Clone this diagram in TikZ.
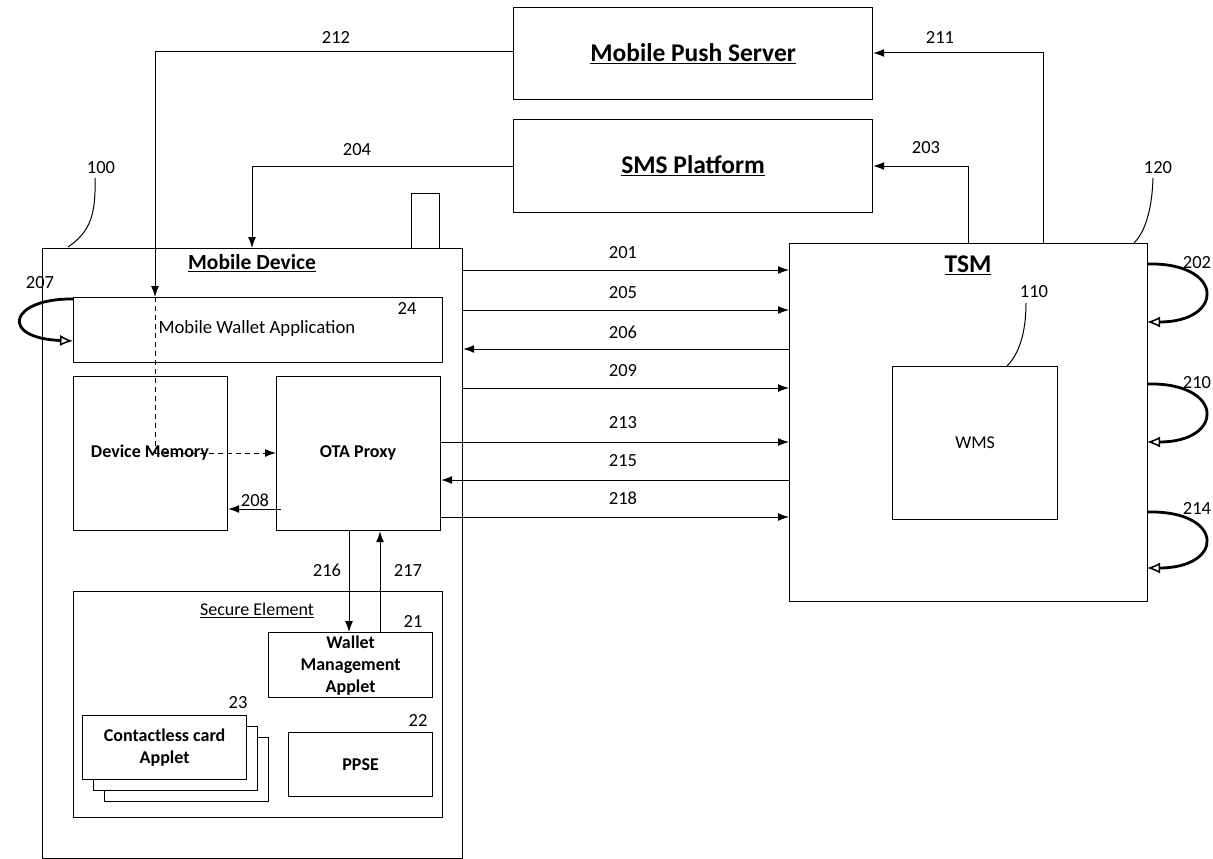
\documentclass[tikz,border=0pt]{standalone}
\usepackage{fontspec}
\setmainfont{Carlito}
\usetikzlibrary{arrows.meta,calc}
\begin{document}
\begin{tikzpicture}[x=1pt,y=-1pt,
  box/.style={draw, line width=1.2pt, inner sep=0pt, anchor=north west, fill=white},
  num/.style={font=\fontsize{18.5}{18.5}\selectfont, inner sep=0pt},
  inb/.style={font=\fontsize{18}{21}\selectfont\bfseries, align=center},
  inr/.style={font=\fontsize{18}{21}\selectfont, align=center},
  ttl/.style={font=\fontsize{25.5}{25.5}\selectfont\bfseries, inner sep=0pt},
  arr/.style={line width=1pt, -{Latex[length=11pt,width=8pt]}},
  darr/.style={line width=1pt, dashed, dash pattern=on 5pt off 4pt, -{Latex[length=11pt,width=8pt]}},
  lp/.style={line width=2.8pt, -{Latex[open,length=13pt,width=11pt,line width=1.5pt]}},
  lead/.style={line width=1pt}]
\useasboundingbox (0,0) rectangle (1213,859);

% top servers
\node[box, minimum width=359, minimum height=92] (mps) at (513,7) {};
\node[ttl] at (mps.center) {\underline{Mobile Push Server}};
\node[box, minimum width=359, minimum height=93] (sms) at (513,119) {};
\node[ttl] at (sms.center) {\underline{SMS Platform}};

% mobile device
\node[box, minimum width=28, minimum height=56] (ant) at (411,193) {};
\node[box, minimum width=420, minimum height=610] (md) at (42,248) {};
\node[font=\fontsize{21.5}{21.5}\selectfont\bfseries, inner sep=0pt] (mdt) at (252,263) {\underline{Mobile Device}};
\node[num] (l100) at (101,168) {100};
\draw[lead] (95,178) .. controls (96,215) and (90,232) .. (68,247);

\node[box, minimum width=369, minimum height=65] (mwa) at (73,297) {};
\node[inr, inner sep=0pt, font=\fontsize{18.7}{21}\selectfont] at (257,329) {Mobile Wallet Application};
\node[num] (l24) at (407,308) {24};

\node[box, minimum width=154, minimum height=154] (dm) at (73,376) {};
\node[box, minimum width=164, minimum height=154] (ota) at (276,376) {};
\node[inb, inner sep=0pt] (dmt) at (150,453) {Device Memory};
\node[inb, inner sep=0pt] at (358,453) {OTA Proxy};

% secure element
\node[box, minimum width=369, minimum height=226] (se) at (73,591) {};
\node[font=\fontsize{18}{18}\selectfont, inner sep=0pt] at (257,610) {\underline{Secure Element}};
\node[box, minimum width=164, minimum height=65] (wma) at (268,632) {};
\node[inb, inner sep=0pt, font=\fontsize{18}{22}\selectfont\bfseries] at (wma.center) {Wallet\\Management\\Applet};
\node[num] (l21) at (413,621) {21};
\node[box, minimum width=164, minimum height=64] (cc3) at (104,737) {};
\node[box, minimum width=164, minimum height=64] (cc2) at (93,726) {};
\node[box, minimum width=164, minimum height=64] (cc1) at (82,715) {};
\node[inb, inner sep=0pt, font=\fontsize{18}{22}\selectfont\bfseries] at (cc1.center) {Contactless card\\Applet};
\node[num] (l23) at (238,703) {23};
\node[box, minimum width=144, minimum height=64] (ppse) at (288,732) {};
\node[inb, inner sep=0pt] at (ppse.center) {PPSE};
\node[num] (l22) at (418,720) {22};

% TSM
\node[box, minimum width=358, minimum height=358] (tsm) at (789,243) {};
\node[ttl] at (968,265) {\underline{TSM}};
\node[num] (l120) at (1158,168) {120};
\draw[lead] (1153,178) .. controls (1152,210) and (1145,232) .. (1134,243);
\node[box, minimum width=165, minimum height=153] (wms) at (892,366) {};
\node[inr, inner sep=0pt] at (wms.center) {WMS};
\node[num] (l110) at (1034,292) {110};
\draw[lead] (1026,303) .. controls (1026,335) and (1018,355) .. (1007,366);

% server connectors
\coordinate (c212) at (155,52);
\draw[arr] (mps.west |- c212) -- (c212) -- (c212 |- mwa.north);
\node[num] at (336,37) {212};
\coordinate (dmx) at (155,453);
\draw[line width=1pt, dashed, dash pattern=on 5pt off 4pt] (c212 |- mwa.north) -- (dmx);
\draw[darr] (dmx) -- (ota.west |- dmx);
\coordinate (c204) at (252,166);
\draw[arr] (sms.west |- c204) -- (c204) -- (c204 |- md.north);
\node[num] at (357,150) {204};
\coordinate (c203) at (968,166);
\draw[arr] (c203 |- tsm.north) -- (c203) -- (sms.east |- c203);
\node[num] at (926,148) {203};
\coordinate (c211) at (1043,53);
\draw[arr] (c211 |- tsm.north) -- (c211) -- (mps.east |- c211);
\node[num] at (940,37) {211};

% device <-> TSM
\foreach \yy/\lab/\dir in {270/201/r, 310/205/r, 349/206/l, 388/209/r}{
  \coordinate (a) at (md.east |- 0,\yy);
  \coordinate (b) at (tsm.west |- 0,\yy);
  \if r\dir \draw[arr] (a) -- (b); \else \draw[arr] (b) -- (a); \fi
  \node[num] at (623,\yy-17) {\lab};
}
\foreach \yy/\lab/\dir in {442/213/r, 480/215/l, 517/218/r}{
  \coordinate (a) at (ota.east |- 0,\yy);
  \coordinate (b) at (tsm.west |- 0,\yy);
  \if r\dir \draw[arr] (a) -- (b); \else \draw[arr] (b) -- (a); \fi
  \node[num] at (623,\yy-19) {\lab};
}

% internal
\coordinate (c208) at (281,509);
\draw[arr] (c208) -- (dm.east |- c208);
\node[num] at (255,500) {208};
\coordinate (c216) at (349,600);
\draw[arr] (c216 |- ota.south) -- (c216 |- wma.north);
\node[num] at (327,570) {216};
\coordinate (c217) at (380,600);
\draw[arr] (c217 |- wma.north) -- (c217 |- ota.south);
\node[num] at (408,570) {217};

% loops
\draw[lp] (73,299) .. controls (10,298) and (-2,338) .. (73,341);
\node[num] at (40,283) {207};
\draw[lp] (1147,264) .. controls (1225,262) and (1225,322) .. (1147,322);
\node[num] at (1197,263) {202};
\draw[lp] (1147,384) .. controls (1225,382) and (1225,442) .. (1147,442);
\node[num] at (1197,383) {210};
\draw[lp] (1147,512) .. controls (1225,510) and (1225,568) .. (1147,568);
\node[num] at (1197,508) {214};
\end{tikzpicture}
\end{document}
